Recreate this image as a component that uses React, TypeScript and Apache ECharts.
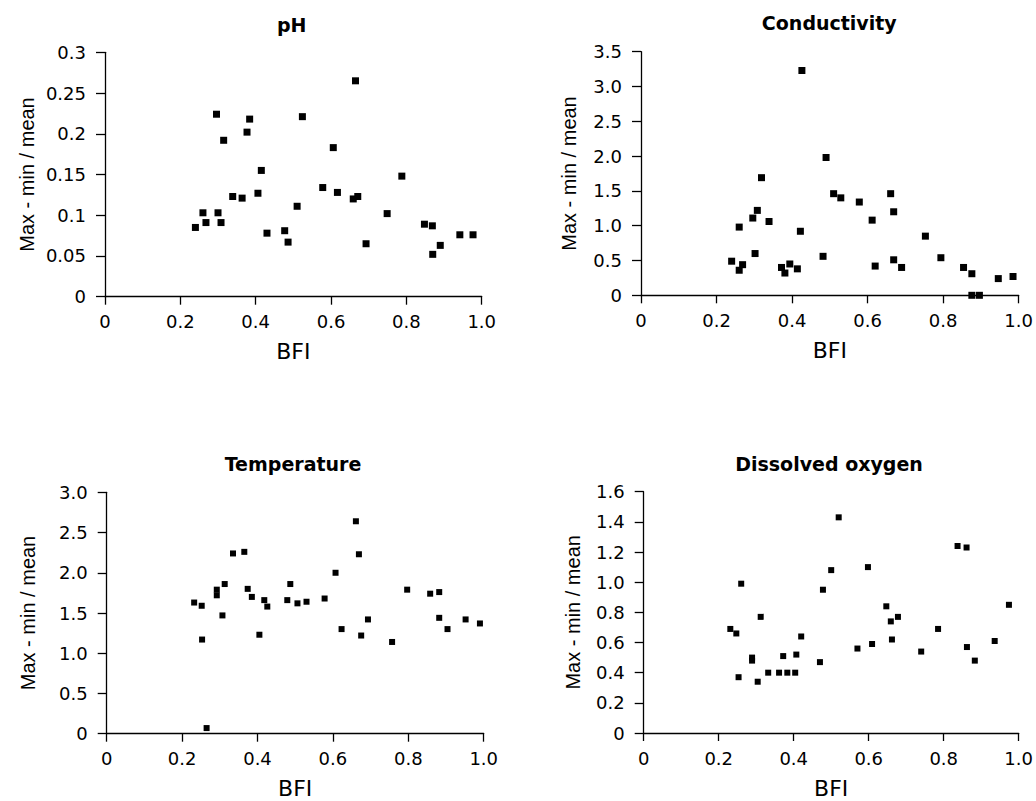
import React, { useEffect, useRef } from "react";
import * as echarts from "echarts";

const panelTitles = ["pH", "Conductivity", "Temperature", "Dissolved oxygen"];
const xAxisName = "BFI";
const yAxisName = "Max - min / mean";
const bfiTicks = [0, 0.2, 0.4, 0.6, 0.8, 1.0];

const phYTicks = [0, 0.05, 0.1, 0.15, 0.2, 0.25, 0.3];
const condYTicks = [0, 0.5, 1.0, 1.5, 2.0, 2.5, 3.0, 3.5];
const tempYTicks = [0, 0.5, 1.0, 1.5, 2.0, 2.5, 3.0];
const doYTicks = [0, 0.2, 0.4, 0.6, 0.8, 1.0, 1.2, 1.4, 1.6];

const phBFI = [0.24, 0.26, 0.268, 0.296, 0.3, 0.308, 0.315, 0.339, 0.364, 0.377, 0.384, 0.406, 0.415, 0.43, 0.477, 0.486, 0.51, 0.524, 0.578, 0.606, 0.617, 0.665, 0.659, 0.671, 0.693, 0.749, 0.788, 0.848, 0.869, 0.87, 0.89, 0.942, 0.977];
const phValues = [0.085, 0.103, 0.091, 0.224, 0.103, 0.091, 0.192, 0.123, 0.121, 0.202, 0.218, 0.127, 0.155, 0.078, 0.081, 0.067, 0.111, 0.221, 0.134, 0.183, 0.128, 0.265, 0.12, 0.123, 0.065, 0.102, 0.148, 0.089, 0.087, 0.052, 0.063, 0.076, 0.076];

const condBFI = [0.24, 0.26, 0.269, 0.26, 0.296, 0.302, 0.308, 0.319, 0.339, 0.372, 0.381, 0.394, 0.414, 0.422, 0.426, 0.482, 0.49, 0.51, 0.529, 0.578, 0.612, 0.62, 0.661, 0.669, 0.669, 0.69, 0.753, 0.794, 0.854, 0.876, 0.876, 0.896, 0.946, 0.985];
const condValues = [0.49, 0.36, 0.44, 0.98, 1.11, 0.6, 1.22, 1.69, 1.06, 0.4, 0.32, 0.45, 0.38, 0.92, 3.23, 0.56, 1.98, 1.46, 1.4, 1.34, 1.08, 0.42, 1.46, 1.2, 0.51, 0.4, 0.85, 0.54, 0.4, 0.31, 0, 0, 0.24, 0.27];

const tempBFI = [0.232, 0.252, 0.253, 0.265, 0.292, 0.292, 0.307, 0.313, 0.335, 0.365, 0.374, 0.385, 0.405, 0.418, 0.426, 0.479, 0.487, 0.506, 0.53, 0.578, 0.607, 0.623, 0.661, 0.669, 0.675, 0.693, 0.757, 0.797, 0.858, 0.882, 0.882, 0.904, 0.952, 0.99];
const tempValues = [1.63, 1.59, 1.17, 0.07, 1.79, 1.72, 1.47, 1.86, 2.24, 2.26, 1.8, 1.7, 1.23, 1.66, 1.58, 1.66, 1.86, 1.62, 1.64, 1.68, 2.0, 1.3, 2.64, 2.23, 1.22, 1.42, 1.14, 1.79, 1.74, 1.76, 1.44, 1.3, 1.42, 1.37];

const doBFI = [0.231, 0.247, 0.253, 0.26, 0.289, 0.289, 0.304, 0.312, 0.332, 0.361, 0.372, 0.383, 0.404, 0.407, 0.42, 0.47, 0.478, 0.5, 0.52, 0.57, 0.598, 0.609, 0.647, 0.659, 0.662, 0.678, 0.74, 0.785, 0.837, 0.861, 0.862, 0.883, 0.936, 0.974];
const doValues = [0.69, 0.66, 0.37, 0.99, 0.5, 0.48, 0.34, 0.77, 0.4, 0.4, 0.51, 0.4, 0.4, 0.52, 0.64, 0.47, 0.95, 1.08, 1.43, 0.56, 1.1, 0.59, 0.84, 0.74, 0.62, 0.77, 0.54, 0.69, 1.24, 1.23, 0.57, 0.48, 0.61, 0.85];

const TICK_FONT = "DejaVu Sans";
const NAME_FONT = "Liberation Sans";

export default function App() {
  const ref = useRef<HTMLDivElement>(null);

  useEffect(() => {
    if (!ref.current) return;
    const chart = echarts.init(ref.current, undefined, { renderer: "svg" });

    const panels = [
      { title: panelTitles[0], xs: phBFI, ys: phValues, yTicks: phYTicks, grid: { left: 105, top: 52.3, width: 376.7, height: 244.4 }, titlePos: [291.7, 25], nameGap: 68, sym: 7, fmt: (v: number) => (v === 0 ? "0" : String(+v.toFixed(2))) },
      { title: panelTitles[1], xs: condBFI, ys: condValues, yTicks: condYTicks, grid: { left: 641, top: 51.7, width: 377.7, height: 243.6 }, titlePos: [829.3, 23], nameGap: 62, sym: 7, fmt: (v: number) => (v === 0 ? "0" : v.toFixed(1)) },
      { title: panelTitles[2], xs: tempBFI, ys: tempValues, yTicks: tempYTicks, grid: { left: 106.7, top: 492.3, width: 377, height: 241.4 }, titlePos: [293, 464], nameGap: 69, sym: 6, fmt: (v: number) => (v === 0 ? "0" : v.toFixed(1)) },
      { title: panelTitles[3], xs: doBFI, ys: doValues, yTicks: doYTicks, grid: { left: 643.7, top: 491.7, width: 377.5, height: 241.3 }, titlePos: [829, 464], nameGap: 61, sym: 6, fmt: (v: number) => (v === 0 ? "0" : v.toFixed(1)) },
    ];

    const axisLine = { show: true, lineStyle: { color: "#000", width: 1.3 } };

    const option: any = {
      animation: false,
      backgroundColor: "#fff",
      grid: panels.map((p) => ({ ...p.grid, containLabel: false })),
      xAxis: panels.map((p, i) => ({
        type: "value",
        gridIndex: i,
        min: bfiTicks[0],
        max: bfiTicks[bfiTicks.length - 1],
        interval: bfiTicks[1] - bfiTicks[0],
        name: xAxisName,
        nameLocation: "middle",
        nameGap: 44,
        nameTextStyle: { fontFamily: TICK_FONT, fontSize: 22, color: "#000" },
        axisLine,
        axisTick: { show: true, inside: false, length: 8, lineStyle: { color: "#000", width: 1.3 } },
        axisLabel: {
          fontFamily: TICK_FONT,
          fontSize: 18,
          color: "#000",
          margin: 16,
          formatter: (v: number) => (v === 0 ? "0" : v.toFixed(1)),
        },
        splitLine: { show: false },
      })),
      yAxis: panels.map((p, i) => ({
        type: "value",
        gridIndex: i,
        min: p.yTicks[0],
        max: p.yTicks[p.yTicks.length - 1],
        interval: p.yTicks[1] - p.yTicks[0],
        name: yAxisName,
        nameLocation: "middle",
        nameGap: p.nameGap,
        nameTextStyle: { fontFamily: NAME_FONT, fontSize: 20, color: "#000" },
        axisLine,
        axisTick: { show: true, inside: false, length: 9, lineStyle: { color: "#000", width: 1.3 } },
        axisLabel: {
          fontFamily: TICK_FONT,
          fontSize: 18,
          color: "#000",
          margin: 19,
          formatter: p.fmt,
        },
        splitLine: { show: false },
      })),
      series: panels.map((p, i) => ({
        type: "scatter",
        xAxisIndex: i,
        yAxisIndex: i,
        symbol: "rect",
        symbolSize: p.sym,
        itemStyle: { color: "#000", opacity: 1 },
        clip: false,
        data: p.xs.map((x, k) => [x, p.ys[k]]),
      })),
      graphic: panels.map((p) => ({
        type: "text",
        x: p.titlePos[0],
        y: p.titlePos[1],
        style: {
          text: p.title,
          fill: "#000",
          font: `bold 19px "${TICK_FONT}"`,
          textAlign: "center",
          textVerticalAlign: "middle",
          align: "center",
          verticalAlign: "middle",
        },
      })),
    };

    chart.setOption(option);
    return () => chart.dispose();
  }, []);

  return (
    <div
      ref={ref}
      style={{ position: "absolute", left: 0, top: 0, width: 1036, height: 801, background: "#fff" }}
    />
  );
}
